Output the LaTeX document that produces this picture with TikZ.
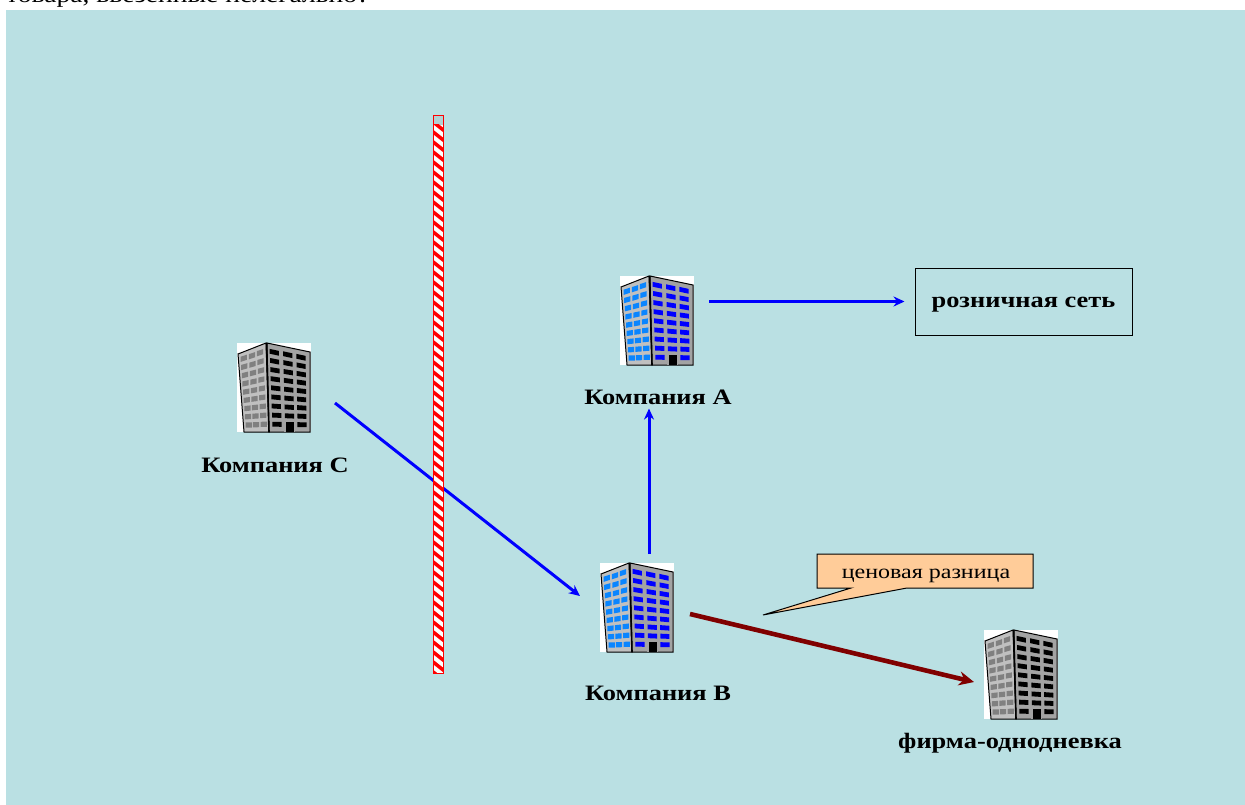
\documentclass[tikz,border=0pt]{standalone}
\usepackage{fontspec}
\setmainfont{Liberation Serif}
\usetikzlibrary{arrows.meta,calc}
\definecolor{bgc}{HTML}{BAE0E3}
\definecolor{callout}{HTML}{FFCC99}
\definecolor{darkarrow}{HTML}{800000}
\definecolor{winlight}{HTML}{0A85FF}
\definecolor{faceleft}{HTML}{C0C0C0}
\definecolor{faceright}{HTML}{A3A3A3}
\newcommand{\wideb}{\addfontfeatures{FakeStretch=1.2}}
\tikzset{
  bldg/.style={minimum width=74pt,minimum height=89pt,inner sep=0pt,outer sep=0pt},
  lbl/.style={font=\fontsize{22}{24}\selectfont\bfseries\wideb,inner sep=1pt},
  flow/.style={blue,line width=3pt,-{Stealth[length=11pt,width=10pt]}},
  pics/building/.style n args={2}{code={
    % local origin: top-left of a 74x89 tile
    \fill[white] (0,0) rectangle (74,89);
    \filldraw[draw=black,line width=1pt,fill=faceleft] (1,11) -- (29,0) -- (32,89) -- (7,89) -- cycle;
    \filldraw[draw=black,line width=1pt,fill=faceright] (30,0) -- (73,9) -- (73,89) -- (32,89) -- cycle;
    \draw[black,line width=1.6pt] (29.5,0) -- (32,89);
    \foreach \r in {0,...,8}{
      \pgfmathsetmacro{\t}{\r/8}
      \foreach \xa/\ya/\xb/\yb in {6.7/15.3/11.7/82, 15/12.7/19/81.7, 23/9.7/26.7/81.3}{
        \pgfmathsetmacro{\cx}{\xa+(\xb-\xa)*\t}
        \pgfmathsetmacro{\cy}{\ya+(\yb-\ya)*\t}
        \pgfmathsetmacro{\sk}{-1.0*(1-\t)-0.1*\t}
        \fill[#1] (\cx-3.1,\cy-2.6-\sk) -- (\cx+3.1,\cy-2.6+\sk) -- (\cx+3.1,\cy+2.6+\sk) -- (\cx-3.1,\cy+2.6-\sk) -- cycle;
      }
      \foreach \xa/\ya/\xb/\yb in {37.3/9.3/40/81.3, 50.7/11.7/52.7/81.7, 64/14.3/65/81.7}{
        \pgfmathsetmacro{\cx}{\xa+(\xb-\xa)*\t}
        \pgfmathsetmacro{\cy}{\ya+(\yb-\ya)*\t}
        \pgfmathsetmacro{\sk}{1.0*(1-\t)+0.1*\t}
        \fill[#2] (\cx-4.6,\cy-2.4-\sk) -- (\cx+4.6,\cy-2.4+\sk) -- (\cx+4.6,\cy+2.4+\sk) -- (\cx-4.6,\cy+2.4-\sk) -- cycle;
      }
    }
    \fill[faceright] (47,76) rectangle (58,89);
    \fill[black] (48.5,79) rectangle (56.5,89);
  }}
}
\begin{document}
\begin{tikzpicture}[x=1pt,y=-1pt]
\useasboundingbox (0,0) rectangle (1245,805);
\fill[white] (0,0) rectangle (1245,805);
\begin{scope}
  \clip (0,0) rectangle (1245,10);
  \node[anchor=base west,inner sep=0pt,font=\fontsize{23}{25}\selectfont\wideb] (toptext) at (6,3) {товара, ввезенные нелегально?};
\end{scope}
\fill[bgc] (6,10) rectangle (1245,805);

% building tiles
\node[bldg] (bC) at (274,387) {};
\node[bldg] (bA) at (657,320.5) {};
\node[bldg] (bB) at (637,607.5) {};
\node[bldg] (bF) at (1021,674.5) {};
\pic at (237,343) {building={gray}{black}};
\pic at (620,276) {building={winlight}{blue}};
\pic at (600,563) {building={winlight}{blue}};
\pic at (984,630) {building={gray}{black}};

% labels
\node[lbl] (lC) at (275,465) {Компания C};
\node[lbl] (lA) at (658,397) {Компания A};
\node[lbl] (lB) at (658,693) {Компания B};
\node[lbl] (lF) at (1010,743) {фирма-однодневка};

% retail box
\node[draw=black,line width=1pt,fill=bgc,minimum width=217pt,minimum height=67pt,inner sep=0pt,lbl] (retail) at (1023.5,301.5) {\raisebox{-6pt}[0pt][0pt]{розничная сеть}};

% connectors
\draw[flow] ([shift={(24,16)}]bC.east) -- ([shift={(-20,-11.5)}]bB.west);
\draw[flow] ([shift={(12,-9)}]bB.north) -- ([shift={(-9,3)}]lA.south);
\draw[flow] ([shift={(15,-19)}]bA.east) -- ([xshift=-10pt]retail.west);
\draw[darkarrow,line width=4.6pt,-{Stealth[length=15pt,width=14pt]}] ([shift={(16,6.5)}]bB.east) -- ([shift={(-10,7.5)}]bF.west);

% barrier
\begin{scope}
  \fill[gray!15!bgc] (433.5,116) rectangle (443.5,673);
  \clip (433.5,125) rectangle (443.5,673);
  \fill[white] (433.5,125) rectangle (443.5,673);
  \foreach \k in {0,...,57}{
    \fill[red] (433.5,120+\k*10) -- (443.5,128+\k*10) -- (443.5,132.5+\k*10) -- (433.5,124.5+\k*10) -- cycle;
  }
\end{scope}
\draw[red,line width=1pt] (433.5,116) rectangle (443.5,673);

% callout
\filldraw[draw=black,line width=1pt,fill=callout] (817,554) -- (1033,554) -- (1033,588) -- (907,588) -- (763,615) -- (851,588) -- (817,588) -- cycle;
\node[inner sep=0pt,font=\fontsize{20}{22}\selectfont\wideb] (price) at (926,575.5) {ценовая разница};
\end{tikzpicture}
\end{document}
